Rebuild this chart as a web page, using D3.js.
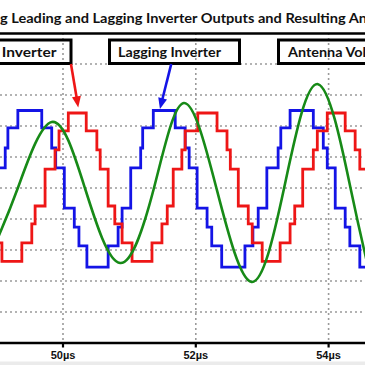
<!DOCTYPE html>
<html><head><meta charset="utf-8">
<script src="https://cdn.jsdelivr.net/npm/d3@7"></script>
<style>html,body{margin:0;padding:0;background:#fff;overflow:hidden}</style>
</head><body><svg id="c" width="365" height="365"></svg>
<script>
// ---------- data ----------
const titleText = "g Leading and Lagging Inverter Outputs and Resulting An";
const xTicks = [50, 52, 54];
const xTickLabels = ["50µs", "52µs", "54µs"];
const yGrid = [-4, -3, -2, -1, 0, 1, 2, 3, 4];

// Leading inverter (red): step change times (µs) and the level that starts there
const leadTimes = [49.0, 49.08, 49.38, 49.53, 49.58, 49.73, 49.88, 49.94, 50.08, 50.35, 50.51, 50.56, 50.68, 50.78, 50.89, 51.04, 51.34, 51.49, 51.57, 51.66, 51.79, 51.84, 52.03, 52.32, 52.47, 52.52, 52.64, 52.79, 52.85, 53.00, 53.27, 53.42, 53.49, 53.61, 53.77, 53.83, 53.98, 54.25, 54.40, 54.47, 54.7];
const leadValues = [-1.77, -2.37, -1.77, -1.16, -0.58, 0.61, 1.23, 1.84, 2.42, 1.84, 1.23, 0.61, -0.58, -1.16, -1.77, -2.37, -1.77, -1.16, -0.58, 0.61, 1.23, 1.84, 2.42, 1.84, 1.23, 0.61, -0.58, -1.16, -1.77, -2.37, -1.77, -1.16, -0.58, 0.61, 1.23, 1.84, 2.42, 1.84, 1.23, 0.61, 0.61];

// Lagging inverter (blue)
const lagTimes = [49.0, 49.13, 49.17, 49.32, 49.68, 49.83, 49.89, 50.02, 50.17, 50.24, 50.36, 50.68, 50.83, 50.89, 51.02, 51.17, 51.20, 51.36, 51.69, 51.84, 51.90, 52.02, 52.17, 52.24, 52.39, 52.74, 52.86, 52.94, 53.07, 53.24, 53.28, 53.42, 53.77, 53.92, 53.98, 54.10, 54.25, 54.32, 54.47, 54.7];
const lagValues = [0.65, 1.29, 1.94, 2.5, 1.94, 1.29, 0.65, -0.65, -1.26, -1.87, -2.55, -1.87, -1.26, -0.65, 0.65, 1.29, 1.94, 2.5, 1.94, 1.29, 0.65, -0.65, -1.26, -1.87, -2.55, -1.87, -1.26, -0.65, 0.65, 1.29, 1.94, 2.5, 1.94, 1.29, 0.65, -0.65, -1.26, -1.87, -2.55, -2.55];

// Antenna voltage (green): read points (peaks, troughs, zero crossings)
const antTimes = [49.0, 49.32, 49.83, 50.33, 50.86, 51.37, 51.82, 52.31, 52.84, 53.33, 53.84, 54.33, 54.6];
const antValues = [-1.7, 0, 2.13, 0, -2.42, 0, 2.74, 0, -3.03, 0, 3.35, 0, -2.6];

const labels = ["Leading Inverter", "Lagging Inverter", "Antenna Voltage"];

// ---------- drawing ----------
const W = 365, H = 365;
const svg = d3.select("#c");
const x = d3.scaleLinear().domain([49, 55]).range([63 - 66.4, 63 + 5 * 66.4]);
const y = d3.scaleLinear().domain([-5, 5]).range([343, 33]);

svg.append("rect").attr("width", W).attr("height", H).attr("fill", "#fff");
svg.append("rect").attr("x", 0).attr("y", 361.5).attr("width", W).attr("height", 4).attr("fill", "#ebebeb");

// grid
const grid = svg.append("g").attr("stroke", "#9a9a9a").attr("stroke-width", 1.6).attr("stroke-dasharray", "2,3");
grid.selectAll("line.h").data(yGrid).join("line")
  .attr("x1", 0).attr("x2", W).attr("y1", d => y(d)).attr("y2", d => y(d));
grid.selectAll("line.v").data(xTicks).join("line")
  .attr("x1", d => x(d)).attr("x2", d => x(d)).attr("y1", y(5)).attr("y2", y(-5));

// top border line
svg.append("line").attr("x1", 0).attr("x2", W).attr("y1", y(5) + 0.5).attr("y2", y(5) + 0.5)
  .attr("stroke", "#000").attr("stroke-width", 2.5);

// title
svg.append("text").attr("x", 0).attr("y", 22.5)
  .attr("font-family", "Lato, 'Open Sans', sans-serif").attr("font-weight", "bold").attr("font-size", 13.5)
  .attr("textLength", 367).attr("lengthAdjust", "spacingAndGlyphs")
  .attr("fill", "#111").text(titleText);

// series
const stepLine = d3.line().x(d => x(d[0])).y(d => y(d[1])).curve(d3.curveStepAfter);
const smoothLine = d3.line().x(d => x(d[0])).y(d => y(d[1])).curve(d3.curveNatural);
const lagData = lagTimes.map((t, i) => [t, lagValues[i]]);
const leadData = leadTimes.map((t, i) => [t, leadValues[i]]);
const antData = antTimes.map((t, i) => [t, antValues[i]]);

svg.append("path").attr("d", stepLine(lagData)).attr("fill", "none")
  .attr("stroke", "#1414e6").attr("stroke-width", 2.8).attr("stroke-linejoin", "miter");
svg.append("path").attr("d", stepLine(leadData)).attr("fill", "none")
  .attr("stroke", "#ee1616").attr("stroke-width", 2.8).attr("stroke-linejoin", "miter");
svg.append("path").attr("d", smoothLine(antData)).attr("fill", "none")
  .attr("stroke", "#178a17").attr("stroke-width", 2.6);

// label boxes
const boxes = [
  {x0: -10, x1: 71, text: labels[0], anchor: "end", tx: 56.5, len: 112},
  {x0: 109.5, x1: 239.5, text: labels[1], anchor: "start", tx: 118, len: 103},
  {x0: 278.5, x1: 390, text: labels[2], anchor: "start", tx: 288, len: 106}
];
const bg = svg.append("g");
boxes.forEach(b => {
  bg.append("rect").attr("x", b.x0).attr("y", 40).attr("width", b.x1 - b.x0).attr("height", 23.5)
    .attr("fill", "none").attr("stroke", "#000").attr("stroke-width", 3);
  bg.append("text").attr("x", b.tx).attr("y", 57).attr("text-anchor", b.anchor)
    .attr("font-family", "Lato, 'Open Sans', sans-serif").attr("font-weight", "bold").attr("font-size", 14)
    .attr("textLength", b.len).attr("lengthAdjust", "spacingAndGlyphs")
    .attr("fill", "#111").text(b.text);
});

// arrows
function arrow(t0, v0, t1, v1, color) {
  const x0 = x(t0), y0 = y(v0), x1 = x(t1), y1 = y(v1);
  const dx = x1 - x0, dy = y1 - y0, L = Math.hypot(dx, dy);
  const ux = dx / L, uy = dy / L, hl = 11, hw = 4.5;
  const bx = x1 - ux * hl, by = y1 - uy * hl;
  svg.append("line").attr("x1", x0).attr("y1", y0).attr("x2", bx + ux * 2).attr("y2", by + uy * 2)
    .attr("stroke", color).attr("stroke-width", 2.6);
  svg.append("path").attr("d", `M${x1},${y1}L${bx - uy * hw},${by + ux * hw}L${bx + uy * hw},${by - ux * hw}Z`)
    .attr("fill", color);
}
arrow(50.12, 4.0, 50.23, 2.6, "#ee1616");
arrow(51.63, 4.0, 51.46, 2.55, "#1414e6");

// x axis
svg.append("line").attr("x1", 0).attr("x2", W).attr("y1", y(-5)).attr("y2", y(-5))
  .attr("stroke", "#000").attr("stroke-width", 2.5);
const ax = svg.append("g");
ax.selectAll("line").data(xTicks).join("line")
  .attr("x1", d => x(d)).attr("x2", d => x(d)).attr("y1", y(-5)).attr("y2", y(-5) + 4.5)
  .attr("stroke", "#000").attr("stroke-width", 2.2);
ax.selectAll("text").data(xTicks).join("text")
  .attr("x", d => x(d)).attr("y", 358.5).attr("text-anchor", "middle")
  .attr("font-family", "'Liberation Sans', Arial, sans-serif").attr("font-weight", "bold").attr("font-size", 11)
  .attr("fill", "#111").text((d, i) => xTickLabels[i]);
</script>
</body></html>
